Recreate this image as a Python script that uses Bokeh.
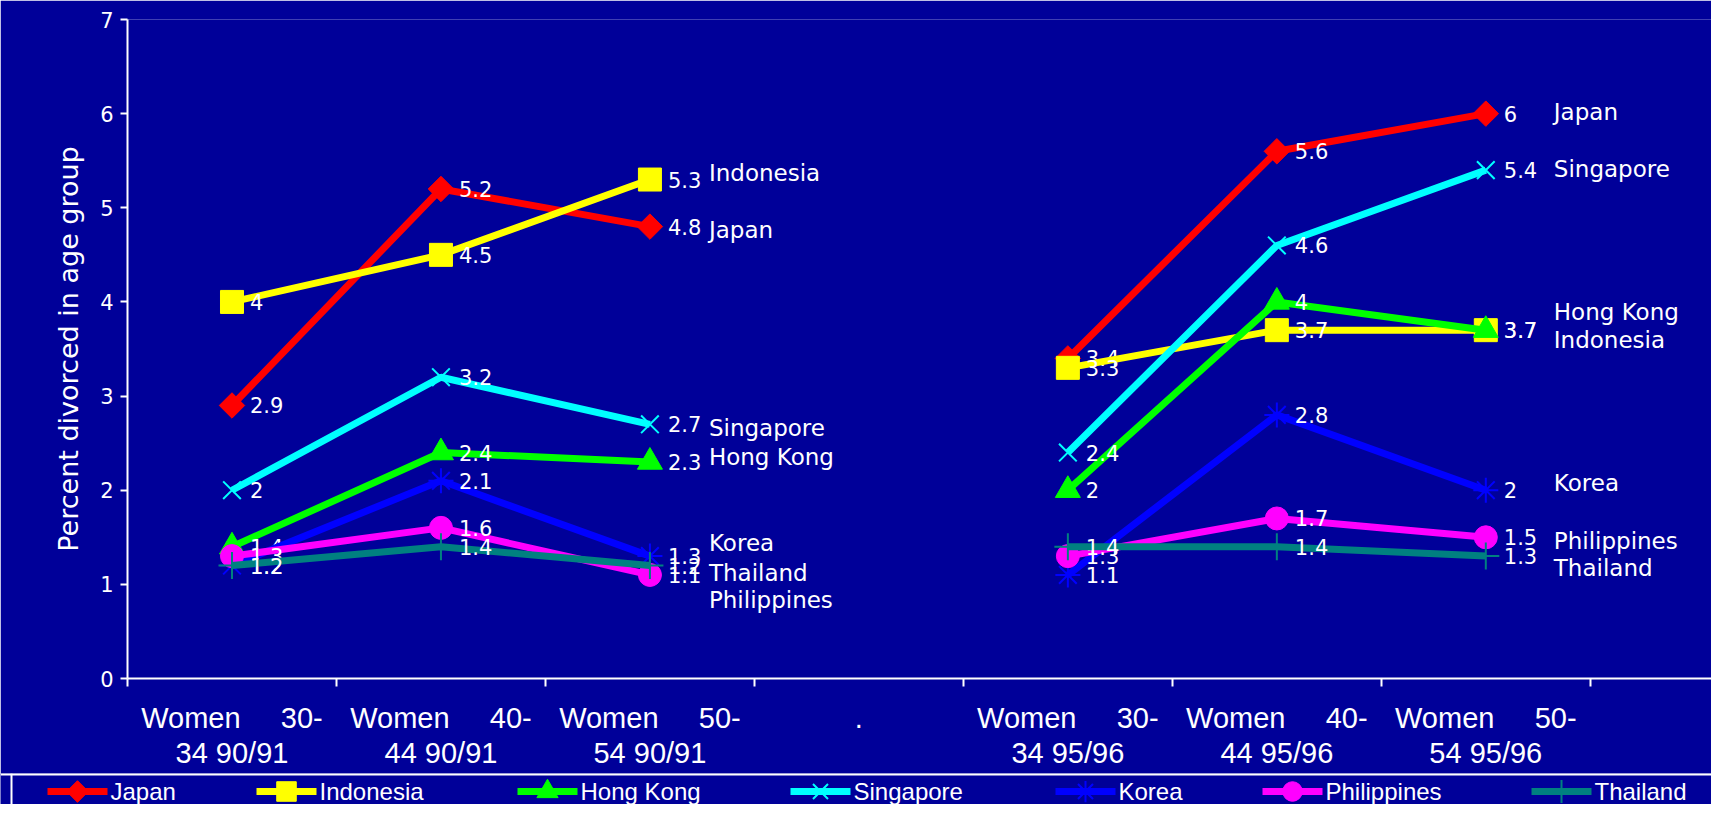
import math
from bokeh.plotting import figure
from bokeh.models import Range1d, FixedTicker, ColumnDataSource, Span, LinearAxis
from bokeh.core.properties import value
from bokeh.embed import file_html
from bokeh.resources import INLINE

# ---------------- data ----------------
NB = "\u00a0"
cat_line1 = ["Women" + NB * 5 + "30-", "Women" + NB * 5 + "40-", "Women" + NB * 5 + "50-", ".",
             "Women" + NB * 5 + "30-", "Women" + NB * 5 + "40-", "Women" + NB * 5 + "50-"]
cat_line2 = ["34 90/91", "44 90/91", "54 90/91", "", "34 95/96", "44 95/96", "54 95/96"]
series_names = ["Japan", "Indonesia", "Hong Kong", "Singapore", "Korea", "Philippines", "Thailand"]
japan       = [2.9, 5.2, 4.8, None, 3.4, 5.6, 6.0]
indonesia   = [4.0, 4.5, 5.3, None, 3.3, 3.7, 3.7]
hong_kong   = [1.4, 2.4, 2.3, None, 2.0, 4.0, 3.7]
singapore   = [2.0, 3.2, 2.7, None, 2.4, 4.6, 5.4]
korea       = [1.2, 2.1, 1.3, None, 1.1, 2.8, 2.0]
philippines = [1.3, 1.6, 1.1, None, 1.3, 1.7, 1.5]
thailand    = [1.2, 1.4, 1.2, None, 1.4, 1.4, 1.3]
y_ticks = [0, 1, 2, 3, 4, 5, 6, 7]
y_title = "Percent divorced in age group"

series_values = [japan, indonesia, hong_kong, singapore, korea, philippines, thailand]

# ---------------- styles / layout ----------------
BG = "#000099"
colors = ["#FF0000", "#FFFF00", "#00FF00", "#00FFFF", "#0000FF", "#FF00FF", "#008080"]
markers = ["square", "square", "triangle", "x", "asterisk", "circle", "cross"]
msizes = [18, 23, 25, 25, 25, 23, 27]
mangles = [math.pi / 4, 0, 0, 0, 0, 0, 0]
mline = [0, 0, 0, 2, 2, 0, 2]
# series-name label vertical nudges (px, up positive) for left / right group
name_nudge_left = [-3, 7, 5, -4, 13, -25, -7]
name_nudge_right = [2, -10, 18, 1, 7, -4, -12]
VAL_FONT = "DejaVu Sans"
CAT_FONT = "Liberation Sans"

W = 1711
H_MAIN, H_LEG = 773, 31
FL, FT, FB = 127, 19, 95
n_slots = 7.58

p = figure(width=W, height=H_MAIN, output_backend="svg", toolbar_location=None,
           x_range=Range1d(0, n_slots), y_range=Range1d(0, 7),
           background_fill_color=BG, border_fill_color=BG, outline_line_color=None,
           min_border_left=FL, min_border_right=0, min_border_top=FT, min_border_bottom=FB)
p.xgrid.visible = False
p.ygrid.visible = False

# x axis (line 1 of category labels + boundary ticks)
centers = [i + 0.5 for i in range(len(cat_line1))]
xa = p.xaxis[0]
xa.ticker = FixedTicker(ticks=centers, minor_ticks=list(range(len(cat_line1) + 1)))
xa.major_label_overrides = {c: lab for c, lab in zip(centers, cat_line1)}
xa.major_tick_line_color = None
xa.major_tick_out = 0
xa.major_tick_in = 0
xa.minor_tick_line_color = "white"
xa.minor_tick_line_width = 2
xa.minor_tick_in = 0
xa.minor_tick_out = 8
xa.axis_line_color = "white"
xa.axis_line_width = 2
xa.major_label_text_color = "white"
xa.major_label_text_font = CAT_FONT
xa.major_label_text_font_size = "29px"
xa.major_label_standoff = 15

# second label row
xa2 = LinearAxis(ticker=FixedTicker(ticks=centers, minor_ticks=[]),
                 major_label_overrides={c: lab for c, lab in zip(centers, cat_line2)},
                 axis_line_color=None, major_tick_line_color=None, minor_tick_line_color=None,
                 major_tick_in=0, major_tick_out=0, minor_tick_in=0, minor_tick_out=0,
                 major_label_text_color="white", major_label_text_font=CAT_FONT,
                 major_label_text_font_size="29px", major_label_standoff=0)
p.add_layout(xa2, "below")

# y axis
p.yaxis.ticker = FixedTicker(ticks=y_ticks, minor_ticks=[])
p.yaxis.axis_line_color = "white"
p.yaxis.axis_line_width = 2
p.yaxis.major_tick_line_color = "white"
p.yaxis.major_tick_line_width = 2
p.yaxis.major_tick_in = 0
p.yaxis.major_tick_out = 7
p.yaxis.minor_tick_line_color = None
p.yaxis.major_label_text_color = "white"
p.yaxis.major_label_text_font = VAL_FONT
p.yaxis.major_label_text_font_size = "21px"
p.yaxis.major_label_standoff = 7
p.yaxis.axis_label = y_title
p.yaxis.axis_label_text_color = "white"
p.yaxis.axis_label_text_font = VAL_FONT
p.yaxis.axis_label_text_font_size = "27px"
p.yaxis.axis_label_text_font_style = "normal"
p.yaxis.axis_label_standoff = 13

for k, (name, vals) in enumerate(zip(series_names, series_values)):
    ys = [float("nan") if v is None else v for v in vals]
    src = ColumnDataSource(dict(x=centers, y=ys))
    p.line("x", "y", source=src, line_color=colors[k], line_width=7)
    kw = dict(marker=markers[k], size=msizes[k], angle=mangles[k])
    if mline[k]:
        kw.update(line_color=colors[k], line_width=mline[k], fill_alpha=0)
    else:
        kw.update(line_color=colors[k], fill_color=colors[k], line_width=1)
    p.scatter("x", "y", source=src, **kw)

    # value labels
    pts = [(c, v) for c, v in zip(centers, vals) if v is not None]
    lsrc = ColumnDataSource(dict(x=[a for a, _ in pts], y=[b for _, b in pts],
                                 t=[("%g" % b) for _, b in pts]))
    p.text("x", "y", text="t", source=lsrc, x_offset=18, text_baseline="middle",
           text_align="left", text_color="white", text_font=value(VAL_FONT),
           text_font_size="21px")

    # series-name labels at group ends
    p.text(x=[centers[2]], y=[vals[2]], text=[name], x_offset=59, y_offset=-name_nudge_left[k],
           text_baseline="middle", text_align="left", text_color="white",
           text_font=value(VAL_FONT), text_font_size="23px")
    p.text(x=[centers[6]], y=[vals[6]], text=[name], x_offset=68, y_offset=-name_nudge_right[k],
           text_baseline="middle", text_align="left", text_color="white",
           text_font=value(VAL_FONT), text_font_size="23px")

# ---------------- legend strip (separate root, pixel-like ranges) ----------------
leg_x = [77, 286, 547, 820, 1085, 1292, 1561]   # sample centers (layout)
LEG_HALF = 30
LEG_CY = 18
BOX_LEFT = 11

lf = figure(width=W, height=H_LEG, output_backend="svg", toolbar_location=None,
            x_range=Range1d(0, W), y_range=Range1d(H_LEG, 0),
            background_fill_color=BG, border_fill_color=BG, outline_line_color=None,
            min_border=0, x_axis_location=None, y_axis_location=None)
lf.xgrid.visible = False
lf.ygrid.visible = False
lf.add_layout(Span(location=1, dimension="width", line_color="white", line_width=2))
lf.add_layout(Span(location=BOX_LEFT, dimension="height", line_color="white", line_width=2))

for k, name in enumerate(series_names):
    cx = leg_x[k]
    lf.line([cx - LEG_HALF, cx + LEG_HALF], [LEG_CY, LEG_CY], line_color=colors[k], line_width=7)
    kw = dict(marker=markers[k], size=msizes[k] * 0.85, angle=mangles[k])
    if mline[k]:
        kw.update(line_color=colors[k], line_width=mline[k], fill_alpha=0)
    else:
        kw.update(line_color=colors[k], fill_color=colors[k], line_width=1)
    lf.scatter([cx], [LEG_CY], **kw)
    lf.text([cx + LEG_HALF + 3], [LEG_CY], text=[name], text_baseline="middle", text_align="left",
            text_color="white", text_font=value(CAT_FONT), text_font_size="24px")

open("out.html", "w").write(file_html([p, lf], INLINE))
